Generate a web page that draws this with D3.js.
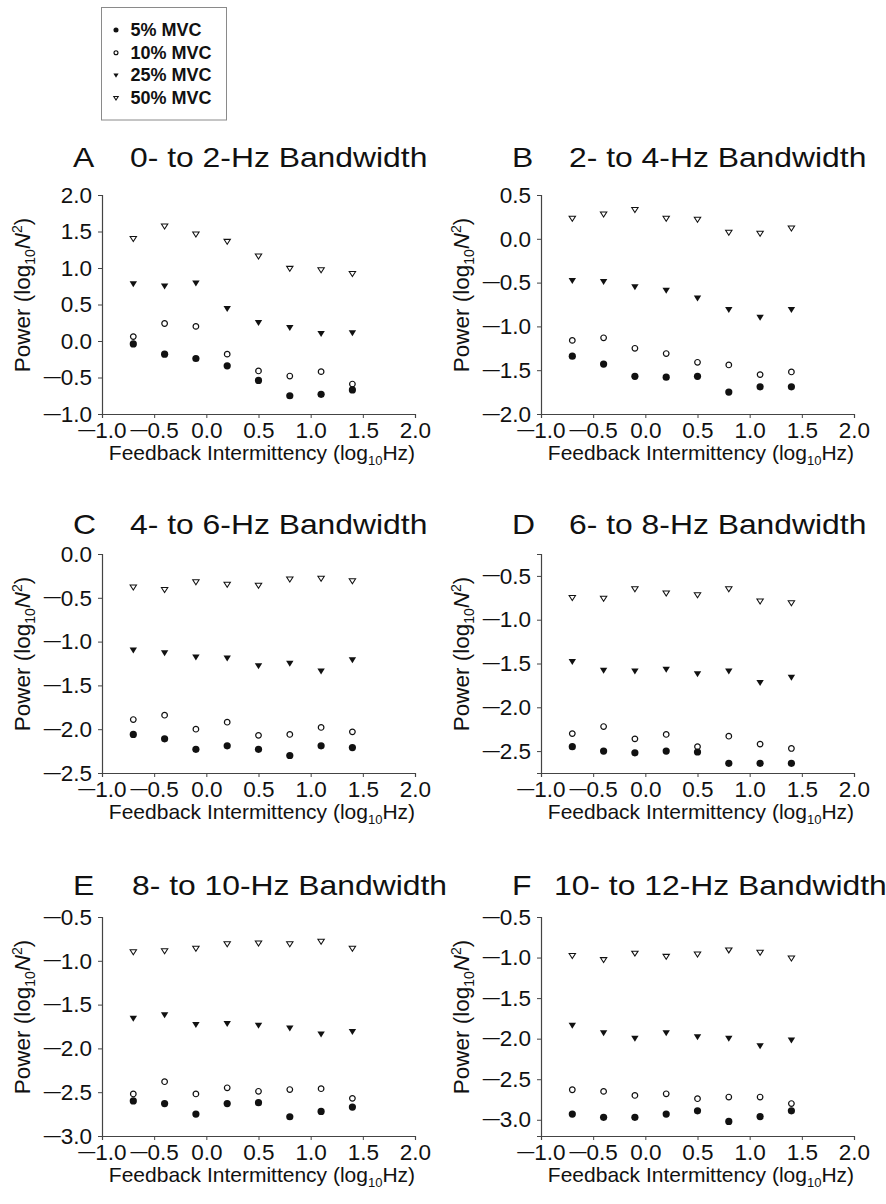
<!DOCTYPE html>
<html>
<head>
<meta charset="utf-8">
<script src="https://cdn.jsdelivr.net/npm/d3@7"></script>
<style>
  body { margin: 0; background: #fff; }
  svg { display: block; font-family: "Liberation Sans", Arial, Helvetica, sans-serif; }
</style>
</head>
<body>
<svg id="chart" width="886" height="1204"></svg>
<script>
// Feedback intermittency (log10 Hz) at which power was measured
const intermittency = [-0.7, -0.4, -0.1, 0.2, 0.5, 0.8, 1.1, 1.4];

const seriesNames = ["5% MVC", "10% MVC", "25% MVC", "50% MVC"];
const panelLetters = ["A", "B", "C", "D", "E", "F"];
const bandTitles = [
  "0- to 2-Hz Bandwidth", "2- to 4-Hz Bandwidth", "4- to 6-Hz Bandwidth",
  "6- to 8-Hz Bandwidth", "8- to 10-Hz Bandwidth", "10- to 12-Hz Bandwidth"
];

// Force power, log10 N^2, one row per frequency band (A..F)
const power5 = [
  [-0.04, -0.18, -0.24, -0.34, -0.54, -0.75, -0.73, -0.67],
  [-1.34, -1.43, -1.57, -1.58, -1.57, -1.75, -1.69, -1.69],
  [-2.06, -2.11, -2.23, -2.19, -2.23, -2.30, -2.19, -2.21],
  [-2.45, -2.50, -2.52, -2.50, -2.51, -2.64, -2.64, -2.64],
  [-2.60, -2.63, -2.75, -2.63, -2.62, -2.78, -2.72, -2.67],
  [-2.93, -2.97, -2.97, -2.93, -2.89, -3.02, -2.96, -2.89]
];
const power10 = [
  [0.06, 0.24, 0.20, -0.18, -0.41, -0.48, -0.42, -0.59],
  [-1.16, -1.13, -1.25, -1.31, -1.41, -1.44, -1.55, -1.52],
  [-1.89, -1.84, -2.00, -1.92, -2.07, -2.06, -1.98, -2.03],
  [-2.30, -2.22, -2.36, -2.31, -2.45, -2.33, -2.42, -2.47],
  [-2.52, -2.38, -2.52, -2.45, -2.49, -2.47, -2.46, -2.57],
  [-2.63, -2.65, -2.70, -2.68, -2.74, -2.72, -2.72, -2.80]
];
const power25 = [
  [0.78, 0.75, 0.79, 0.44, 0.25, 0.18, 0.10, 0.11],
  [-0.48, -0.49, -0.55, -0.59, -0.68, -0.81, -0.90, -0.81],
  [-1.10, -1.13, -1.18, -1.19, -1.28, -1.25, -1.34, -1.21],
  [-1.48, -1.58, -1.59, -1.57, -1.62, -1.59, -1.72, -1.66],
  [-1.66, -1.62, -1.73, -1.72, -1.74, -1.77, -1.84, -1.81],
  [-1.84, -1.93, -2.00, -1.93, -1.98, -2.00, -2.09, -2.02]
];
const power50 = [
  [1.40, 1.57, 1.46, 1.36, 1.16, 0.99, 0.97, 0.92],
  [0.23, 0.28, 0.33, 0.23, 0.22, 0.07, 0.06, 0.12],
  [-0.38, -0.41, -0.32, -0.35, -0.36, -0.29, -0.28, -0.31],
  [-0.75, -0.76, -0.65, -0.70, -0.72, -0.65, -0.79, -0.81],
  [-0.90, -0.89, -0.86, -0.81, -0.80, -0.81, -0.78, -0.86],
  [-0.98, -1.03, -0.95, -0.99, -0.96, -0.91, -0.94, -1.01]
];

const xDomain = [-1, 2];
const xTicks = [-1, -0.5, 0, 0.5, 1, 1.5, 2];
const yDomains = [[-1, 2], [-2, 0.5], [-2.5, 0], [-2.75, -0.25], [-3, -0.5], [-3.2, -0.5]];
const yTicks = [
  [-1, -0.5, 0, 0.5, 1, 1.5, 2],
  [-2, -1.5, -1, -0.5, 0, 0.5],
  [-2.5, -2, -1.5, -1, -0.5, 0],
  [-2.5, -2, -1.5, -1, -0.5],
  [-3, -2.5, -2, -1.5, -1, -0.5],
  [-3, -2.5, -2, -1.5, -1, -0.5]
];

// ---------- layout ----------
const colLeft = [102, 541];
const rowTop = [195, 554, 917];
const plotW = 313, plotH = 219;
const titleBase = [167, 534, 895];
const titleTextOffset = [28, 28, 28, 28, 30, 13];
const titleStretch = 1.18;
const tickFont = 22.5;

const svg = d3.select("#chart");
const ink = "#111";
const axisInk = "#444";

// marker painters: filled circle, open circle, filled / open downward triangle
function tri(s, w0, h0) {
  const w = w0 * s, top = -h0 * 0.47 * s, bot = h0 * 0.53 * s;
  return `M${-w},${top}L${w},${top}L0,${bot}Z`;
}
function drawMarker(g, kind, s) {
  if (kind === 0) g.append("circle").attr("r", 3.6 * s).attr("fill", ink);
  else if (kind === 1) g.append("circle").attr("r", 2.8 * s).attr("fill", "none")
      .attr("stroke", ink).attr("stroke-width", 1.2);
  else if (kind === 2) g.append("path").attr("d", tri(s, 3.7, 6)).attr("fill", ink);
  else g.append("path").attr("d", tri(s, 3.2, 5)).attr("fill", "#fff")
      .attr("stroke", ink).attr("stroke-width", 1.05).attr("stroke-linejoin", "miter");
}

// tick labels with a long typographic minus; the axis' em-based dy is
// folded into the tspans so it is not lost
function fmtTicks(sel) {
  sel.each(function(d) {
    const t = d3.select(this);
    const base = parseFloat(t.attr("dy")) * tickFont;
    const s = d3.format(".1f")(Math.abs(d));
    t.attr("dy", null).text(null);
    if (d < 0) {
      t.append("tspan").attr("font-size", 17).attr("dy", base - 3.2).text("\u2014");
      t.append("tspan").attr("dy", 3.2).text(s);
    } else {
      t.append("tspan").attr("dy", base).text(s);
    }
  });
}

// ---------- legend ----------
const legend = svg.append("g");
legend.append("rect").attr("x", 101.5).attr("y", 7.5).attr("width", 125).attr("height", 112.5)
  .attr("fill", "#fff").attr("stroke", "#8a8a8a").attr("stroke-width", 1);
seriesNames.forEach((name, i) => {
  const yb = 36 + i * 22.7;
  const m = legend.append("g").attr("transform", `translate(116,${yb - 6})`);
  drawMarker(m, i, 0.7);
  legend.append("text").attr("x", 130.5).attr("y", yb)
    .attr("font-size", 18).attr("font-weight", "bold").attr("fill", ink).text(name);
});

// ---------- panels ----------
const series = [power5, power10, power25, power50];

panelLetters.forEach((letter, p) => {
  const col = p % 2, row = Math.floor(p / 2);
  const x0 = colLeft[col], y0 = rowTop[row];
  const g = svg.append("g").attr("transform", `translate(${x0},${y0})`);

  const x = d3.scaleLinear().domain(xDomain).range([0, plotW]);
  const y = d3.scaleLinear().domain(yDomains[p]).range([plotH, 0]);

  const gx = g.append("g").attr("transform", `translate(0,${plotH})`)
    .call(d3.axisBottom(x).tickValues(xTicks).tickSize(4).tickPadding(4));
  const gy = g.append("g")
    .call(d3.axisLeft(y).tickValues(yTicks[p]).tickSize(4).tickPadding(6));

  [gx, gy].forEach(a => {
    a.select(".domain").attr("stroke", axisInk).attr("stroke-width", 1.2);
    a.selectAll(".tick line").attr("stroke", axisInk).attr("stroke-width", 1);
    a.selectAll(".tick text").attr("font-size", tickFont).attr("fill", ink)
      .attr("font-family", '"Liberation Sans", Arial, sans-serif')
      .call(fmtTicks);
  });

  // markers, heaviest load drawn first
  [3, 2, 1, 0].forEach(k => {
    series[k][p].forEach((v, i) => {
      const m = g.append("g").attr("transform", `translate(${x(intermittency[i])},${y(v)})`);
      drawMarker(m, k, 1);
    });
  });

  // panel letter and band title
  svg.append("g").attr("transform", `translate(${x0 - 29},${titleBase[row]}) scale(${titleStretch},1)`)
    .append("text").attr("font-size", 27).attr("fill", ink).text(letter);
  svg.append("g").attr("transform", `translate(${x0 + titleTextOffset[p]},${titleBase[row]}) scale(${titleStretch},1)`)
    .append("text").attr("font-size", 27).attr("fill", ink).text(bandTitles[p]);

  // y axis title
  const yt = g.append("text")
    .attr("transform", `translate(-72,${100}) rotate(-90)`)
    .attr("text-anchor", "middle").attr("font-size", 22.5).attr("fill", ink);
  yt.append("tspan").text("Power (log");
  yt.append("tspan").attr("font-size", 14).attr("dy", 5).text("10");
  yt.append("tspan").attr("dy", -5).attr("font-style", "italic").text("N");
  yt.append("tspan").attr("font-size", 14).attr("dy", -8).text("2");
  yt.append("tspan").attr("dy", 8).text(")");

  // x axis title
  const xt = g.append("text")
    .attr("x", 160).attr("y", plotH + 46)
    .attr("text-anchor", "middle").attr("font-size", 21).attr("fill", ink);
  xt.append("tspan").text("Feedback Intermittency (log");
  xt.append("tspan").attr("font-size", 13).attr("dy", 5).text("10");
  xt.append("tspan").attr("dy", -5).text("Hz)");
});
</script>
</body>
</html>
